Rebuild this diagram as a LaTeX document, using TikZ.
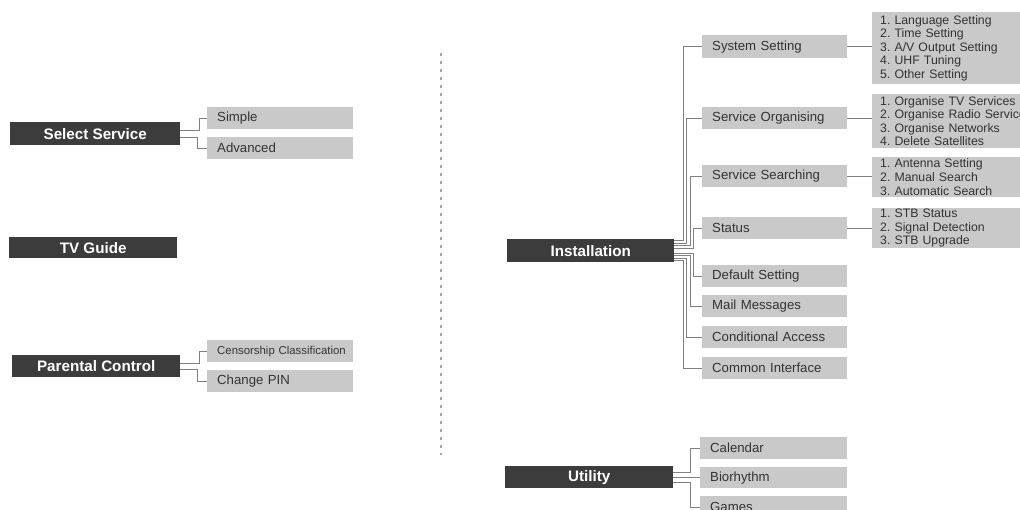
\documentclass[tikz,border=0pt]{standalone}
\usepackage{fontspec}
\setmainfont{Liberation Sans}
\frenchspacing
\definecolor{darkbox}{HTML}{3C3C3C}
\definecolor{graybox}{HTML}{C9C9C9}
\definecolor{linecol}{HTML}{808080}
\definecolor{txt}{HTML}{333333}
\newcommand{\nb}[1]{\mbox{#1}}
\tikzset{
  dbox/.style={fill=darkbox, text=white, anchor=north west, inner sep=0pt,
    font=\fontsize{15.2}{17}\selectfont\bfseries},
  gbox/.style={fill=graybox, text=txt, anchor=north west, inner ysep=0pt, inner xsep=10pt,
    align=left, font=\fontsize{13.2}{15}\selectfont},
  lbox/.style={fill=graybox, text=txt, anchor=north west, inner ysep=0pt, inner xsep=8pt,
    align=left, text width=132pt, font=\fontsize{12.3}{13.6}\selectfont},
  conn/.style={draw=linecol, line width=0.9pt},
  sep/.style={draw=gray!70, line width=1.3pt, dash pattern=on 3pt off 5pt}
}
\begin{document}
\begin{tikzpicture}[x=1pt,y=-1pt]
\useasboundingbox (0,0) rectangle (1020,510);
\clip (0,0) rectangle (1020,510);
\fill[white] (0,0) rectangle (1020,510);

% separator
\coordinate (s1) at (441,53);
\coordinate (s2) at (441,455);
\draw[sep] (s1) -- (s2);

% left column
\node[dbox, minimum width=170pt, minimum height=23pt] (ss) at (10,122) {Select Service};
\node[gbox, text width=126pt, minimum height=22pt] (simple) at (207,107) {\nb{Simple}};
\node[gbox, text width=126pt, minimum height=22pt] (adv) at (207,137) {\nb{Advanced}};

\node[dbox, minimum width=168pt, minimum height=21pt] (tv) at (9,237) {TV Guide};

\node[dbox, minimum width=168pt, minimum height=22pt] (pc) at (12,355) {Parental Control};
\node[gbox, text width=126pt, minimum height=22pt, font=\fontsize{11.4}{13}\selectfont] (cens) at (207,340) {\nb{Censorship Classification}};
\node[gbox, text width=126pt, minimum height=22pt] (pin) at (207,370) {\nb{Change PIN}};

\draw[conn] ([yshift=3.5pt]ss.east) -- ++(19,0) |- (simple.west);
\draw[conn] ([yshift=-3.5pt]ss.east) -- ++(17,0) |- (adv.west);
\draw[conn] ([yshift=3pt]pc.east) -- ++(19,0) |- (cens.west);
\draw[conn] ([yshift=-3pt]pc.east) -- ++(17,0) |- (pin.west);

% Installation
\node[dbox, minimum width=167pt, minimum height=23pt] (inst) at (507,239) {Installation};
\node[gbox, text width=125pt, minimum height=23pt] (sys) at (702,35) {\nb{System Setting}};
\node[gbox, text width=125pt, minimum height=22pt] (org) at (702,107) {\nb{Service Organising}};
\node[gbox, text width=125pt, minimum height=22pt] (srch) at (702,165) {\nb{Service Searching}};
\node[gbox, text width=125pt, minimum height=22pt] (stat) at (702,217) {\nb{Status}};
\node[gbox, text width=125pt, minimum height=22pt] (def) at (702,265) {\nb{Default Setting}};
\node[gbox, text width=125pt, minimum height=22pt] (mail) at (702,295) {\nb{Mail Messages}};
\node[gbox, text width=125pt, minimum height=22pt] (ca) at (702,326) {\nb{Conditional Access}};
\node[gbox, text width=125pt, minimum height=22pt] (ci) at (702,357) {\nb{Common Interface}};

\node[lbox, minimum height=72pt] (lsys) at (872,12) {\nb{1. Language Setting}\\\nb{2. Time Setting}\\\nb{3. A/V Output Setting}\\\nb{4. UHF Tuning}\\\nb{5. Other Setting}};
\node[lbox, minimum height=54pt] (lorg) at (872,94) {\nb{1. Organise TV Services}\\\nb{2. Organise Radio Service}\\\nb{3. Organise Networks}\\\nb{4. Delete Satellites}};
\node[lbox, minimum height=40pt] (lsrch) at (872,157) {\nb{1. Antenna Setting}\\\nb{2. Manual Search}\\\nb{3. Automatic Search}};
\node[lbox, minimum height=40pt] (lstat) at (872,208) {\nb{1. STB Status}\\\nb{2. Signal Detection}\\\nb{3. STB Upgrade}};

\draw[conn] (sys.east) -- (sys.east -| lsys.west);
\draw[conn] (org.east) -- (org.east -| lorg.west);
\draw[conn] (srch.east) -- (srch.east -| lsrch.west);
\draw[conn] (stat.east) -- (stat.east -| lstat.west);

\draw[conn] ([yshift=10pt]inst.east) -- ++(9,0) |- (sys.west);
\draw[conn] ([yshift=7.5pt]inst.east) -- ++(12.5,0) |- (org.west);
\draw[conn] ([yshift=5pt]inst.east) -- ++(16,0) |- (srch.west);
\draw[conn] ([yshift=2.5pt]inst.east) -- ++(19.5,0) |- (stat.west);
\draw[conn] ([yshift=-2.5pt]inst.east) -- ++(19.5,0) |- (def.west);
\draw[conn] ([yshift=-5pt]inst.east) -- ++(16,0) |- (mail.west);
\draw[conn] ([yshift=-7.5pt]inst.east) -- ++(12.5,0) |- (ca.west);
\draw[conn] ([yshift=-10pt]inst.east) -- ++(9,0) |- (ci.west);

% Utility
\node[dbox, minimum width=168pt, minimum height=22pt] (util) at (505,466) {Utility};
\node[gbox, text width=127pt, minimum height=22pt] (cal) at (700,437) {\nb{Calendar}};
\node[gbox, text width=127pt, minimum height=21pt] (bio) at (700,467) {\nb{Biorhythm}};
\node[gbox, text width=127pt, minimum height=22pt] (games) at (700,496) {\nb{Games}};

\draw[conn] ([yshift=5pt]util.east) -- ++(17,0) |- (cal.west);
\draw[conn] (util.east) -- (util.east -| bio.west);
\draw[conn] ([yshift=-5pt]util.east) -- ++(17,0) |- (games.west);
\end{tikzpicture}
\end{document}
